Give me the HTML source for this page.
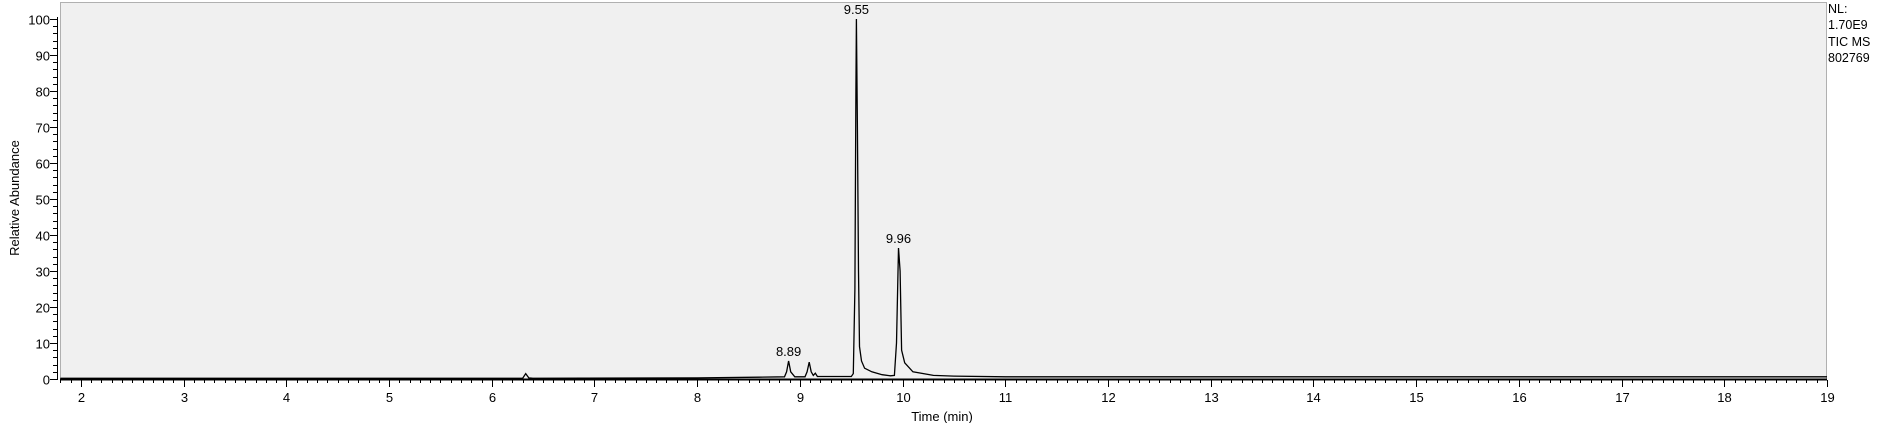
<!DOCTYPE html>
<html><head><meta charset="utf-8"><style>
html,body{margin:0;padding:0;background:#fff;}
svg{display:block;font-family:"Liberation Sans",Arial,sans-serif;}
</style></head><body>
<svg id="chart" width="1879" height="423" viewBox="0 0 1879 423" xmlns="http://www.w3.org/2000/svg">
<rect x="60.5" y="2.5" width="1766" height="377" fill="#f0f0f0" stroke="#b0b0b0" stroke-width="1"/>
<g id="axes"></g>
<text transform="translate(19,198) rotate(-90)" text-anchor="middle" font-size="13" fill="#000">Relative Abundance</text>
<text x="942" y="421" text-anchor="middle" font-size="13" fill="#000">Time (min)</text>
<g font-size="12.5" fill="#000">
<text x="1828" y="13">NL:</text>
<text x="1828" y="29">1.70E9</text>
<text x="1828" y="46">TIC  MS</text>
<text x="1828" y="62">802769</text>
</g>
<g id="series"></g>
</svg>
<script>
const times=[1.8,6.3,6.33,6.36,6.4,8.0,8.6,8.85,8.87,8.89,8.91,8.95,9.0,9.05,9.07,9.09,9.11,9.13,9.15,9.17,9.5,9.52,9.535,9.545,9.55,9.56,9.57,9.58,9.6,9.63,9.7,9.8,9.88,9.92,9.94,9.96,9.975,9.99,10.02,10.1,10.3,10.5,11,19];
const abundance=[0.2,0.2,1.5,0.3,0.2,0.3,0.5,0.6,2,5,2,0.6,0.6,0.6,2,4.7,2,1.0,1.6,0.7,0.7,1.5,25,80,100,70,30,9,5,3,2,1.2,0.9,1.0,10,36.4,30,8,4.5,2,1.0,0.8,0.6,0.6];
const peakLabels=["8.89","9.55","9.96"];
const peakTimes=[8.89,9.55,9.96];
const peakValues=[5,100,36.4];
const xTicks=[2,3,4,5,6,7,8,9,10,11,12,13,14,15,16,17,18,19];
const yTicks=[0,10,20,30,40,50,60,70,80,90,100];
const X0=60,X1=1827,Y0=379,Y1=19;
const xMin=1.796,xMax=19;
function xs(t){return X0+(t-xMin)/(xMax-xMin)*(X1-X0);}
function ys(v){return Y0-(v/100)*(Y0-Y1);}
const NS="http://www.w3.org/2000/svg";
const axes=document.getElementById('axes');
const series=document.getElementById('series');
function mk(tag,attrs,parent){const e=document.createElementNS(NS,tag);for(const k in attrs)e.setAttribute(k,attrs[k]);parent.appendChild(e);return e;}
let d='';
const xl=mk('line',{x1:X0,y1:Y0+0.5,x2:X1,y2:Y0+0.5,stroke:'#000','stroke-width':2},axes);


const yl=mk('line',{x1:X0-2.5,y1:Y1-2,x2:X0-2.5,y2:Y0+1,stroke:'#000','stroke-width':1},axes);


for(let t=1.8;t<=19.001;t+=0.1){d+=`M${Math.round(xs(t))+0.5},${Y0+1}v3`;}
for(let v=0;v<=100;v+=2){d+=`M${X0-3},${Math.round(ys(v))+0.5}h-4`;}
const mt=mk('path',{d:d,stroke:'#000','stroke-width':1,fill:'none'},axes);


xTicks.forEach(t=>{
  const x=Math.round(xs(t))+0.5;
  const l=mk('line',{x1:x,y1:Y0+1,x2:x,y2:Y0+8,stroke:'#000'},axes);
  
  
  const tx=mk('text',{x:x,y:402,'text-anchor':'middle','font-size':13,fill:'#000'},axes);
  tx.textContent=t;
  
  
});
yTicks.forEach(v=>{
  const y=Math.round(ys(v))+0.5;
  const l=mk('line',{x1:X0-3,y1:y,x2:X0-10,y2:y,stroke:'#000'},axes);
  
  
  const tx=mk('text',{x:X0-10,y:y+5,'text-anchor':'end','font-size':13,fill:'#000'},axes);
  tx.textContent=v;
  
  
});
let p='';
times.forEach((t,i)=>{p+=(i?'L':'M')+xs(t).toFixed(1)+','+ys(abundance[i]).toFixed(1);});
const tr=mk('path',{d:p,stroke:'#000','stroke-width':1.3,fill:'none'},series);


peakLabels.forEach((s,i)=>{
  const tx=mk('text',{x:xs(peakTimes[i]),y:ys(peakValues[i])-5,'text-anchor':'middle','font-size':13,fill:'#000'},series);
  tx.textContent=s;
  
  
});
</script>
</body></html>
